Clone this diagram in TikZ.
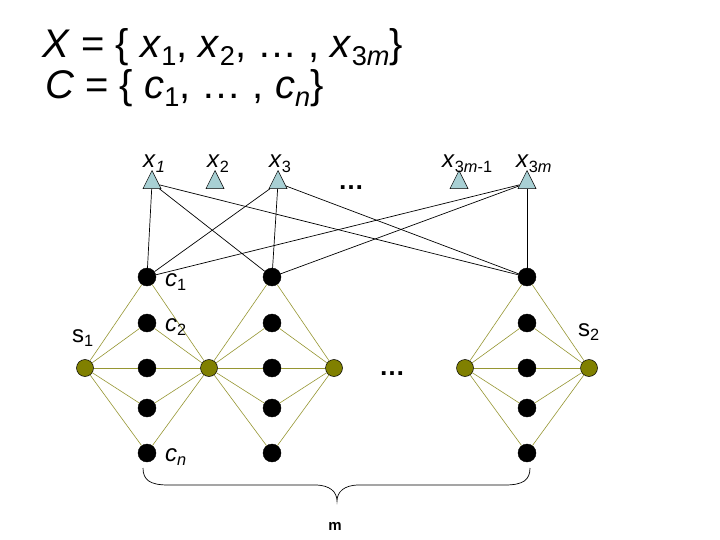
\documentclass[tikz,border=0pt]{standalone}
\usepackage{fontspec}
\usepackage{graphicx}
\setmainfont{Liberation Sans}
\usetikzlibrary{shapes.geometric}
\definecolor{triblue}{RGB}{168,208,212}
\definecolor{olivefill}{RGB}{128,128,0}
\definecolor{oliveline}{RGB}{150,150,50}
\newcommand\lowsub[1]{\raisebox{-0.18em}{\scalebox{0.68}{#1}}}
\begin{document}
\begin{tikzpicture}[x=1pt,y=-1pt,
  blk/.style={circle,fill=black,draw=black,inner sep=0pt,minimum size=18pt},
  olv/.style={circle,fill=olivefill,draw=black,line width=0.5pt,inner sep=0pt,minimum size=17pt},
  tri/.style={isosceles triangle,isosceles triangle stretches,shape border rotate=90,
    minimum width=18pt,minimum height=18pt,inner sep=0pt,fill=triblue,draw=black,line width=0.5pt},
  eo/.style={draw=oliveline,line width=0.6pt},
  ek/.style={draw=black,line width=0.7pt},
  lbl/.style={inner sep=0pt,anchor=base west,font=\fontsize{24}{28}\selectfont},
  ttl/.style={inner sep=0pt,anchor=base west,font=\fontsize{40}{45}\selectfont},
  dotsty/.style={inner sep=0pt,anchor=base,font=\fontsize{26}{30}\selectfont\bfseries}
]
\useasboundingbox (0,0) rectangle (720,540);

% title
\node[ttl] (t1) at (42,58) {\textit{X} = \{ \textit{x}\lowsub{1}, \textit{x}\lowsub{2}, … , \textit{x}\lowsub{3\textit{m}}\}};
\node[ttl] (t2) at (45,99) {\textit{C} = \{ \textit{c}\lowsub{1}, … , \textit{c}\lowsub{\textit{n}}\}};

% element triangles
\node[tri] (T1) at (152,183) {};
\node[tri] (T2) at (215,183) {};
\node[tri] (T3) at (278,183) {};
\node[tri] (T4) at (459,183) {};
\node[tri] (T5) at (527,183) {};
\node[lbl] (L1) at (143,168) {\textit{x}\lowsub{\textit{1}}};
\node[lbl] (L2) at (207,168) {\textit{x}\lowsub{2}};
\node[lbl] (L3) at (269,168) {\textit{x}\lowsub{3}};
\node[lbl] (L4) at (442,168) {\textit{x}\lowsub{3\textit{m}-1}};
\node[lbl] (L5) at (516,168) {\textit{x}\lowsub{3\textit{m}}};
\node[dotsty] (dotsA) at (351,190) {…};

% black columns
\foreach \c/\x in {a/147,b/272,d/527}{
  \foreach \i/\y in {1/277,2/323,3/368,4/408,5/453}{
    \node[blk] (\c\i) at (\x,\y) {};
  }
}
% olive nodes
\node[olv] (s1) at (85,368) {};
\node[olv] (s2) at (209,368) {};
\node[olv] (s3) at (334,368) {};
\node[olv] (s4) at (465,368) {};
\node[olv] (s5) at (589,368) {};
\node[dotsty] (dotsB) at (392,375) {…};

% olive edges
\foreach \i in {1,...,5}{
  \draw[eo] (s1) -- (a\i);
  \draw[eo] (s2) -- (a\i);
  \draw[eo] (s2) -- (b\i);
  \draw[eo] (s3) -- (b\i);
  \draw[eo] (s4) -- (d\i);
  \draw[eo] (s5) -- (d\i);
}

% element edges
\foreach \t in {T1,T3,T5}{
  \foreach \c in {a1,b1,d1}{
    \draw[ek] (\t) -- (\c);
  }
}

% labels
\node[lbl] (c1l) at (165,286) {\textit{c}\lowsub{1}};
\node[lbl] (c2l) at (165,331) {\textit{c}\lowsub{2}};
\node[lbl] (cnl) at (165,461) {\textit{c}\lowsub{\textit{n}}};
\node[lbl] (s1l) at (72,342) {s\lowsub{1}};
\node[lbl] (s2l) at (578,336) {s\lowsub{2}};

% brace
\coordinate (bl) at (143,468);
\coordinate (br) at (530,468);
\coordinate (bt) at (337,501);
\draw[line width=0.7pt] (bl) .. controls (143,480) and (150,485) .. (168,485)
  -- (315,485) .. controls (330,485) and (337,492) .. (bt)
  .. controls (337,492) and (344,485) .. (359,485) -- (505,485)
  .. controls (523,485) and (530,480) .. (br);
\node[inner sep=0pt,anchor=base,font=\fontsize{15}{17}\selectfont\bfseries] (m) at (335,530) {m};
\end{tikzpicture}
\end{document}
